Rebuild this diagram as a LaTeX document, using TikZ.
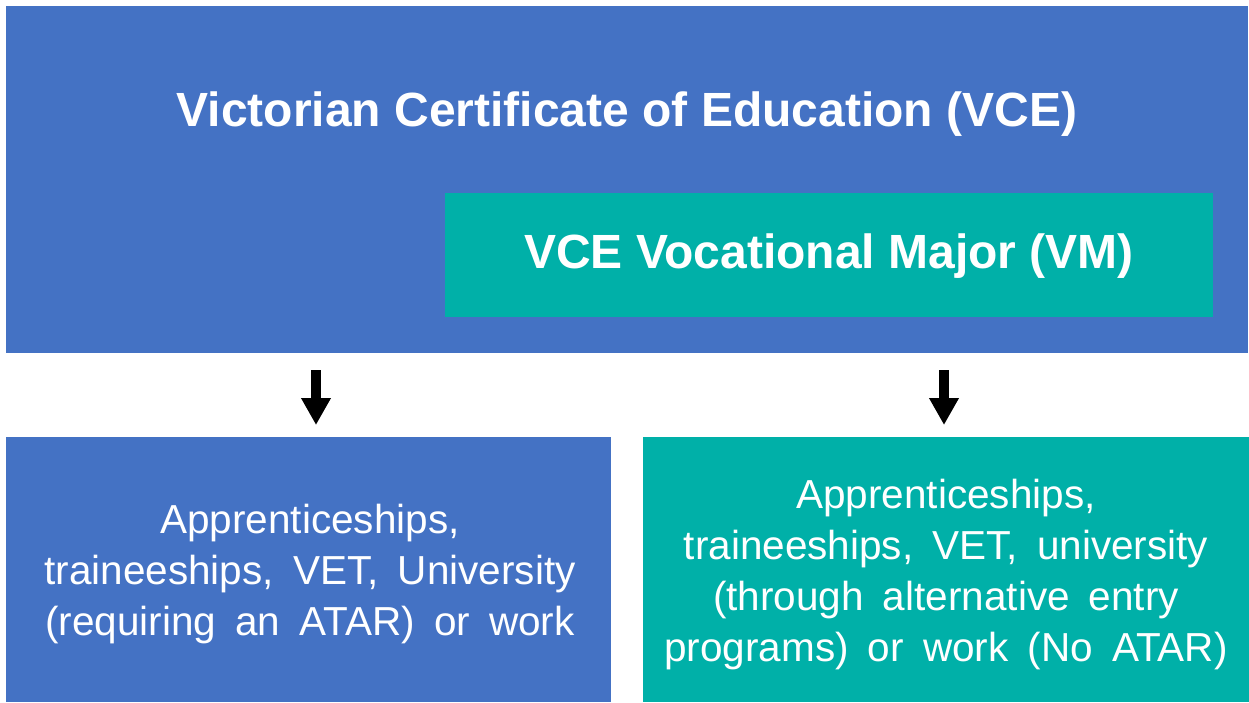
\documentclass[tikz,border=0pt]{standalone}
\usepackage{fontspec}
\setmainfont{Liberation Sans}
\newfontfamily\bodyfont[WordSpace=1.7]{Liberation Sans}
\usetikzlibrary{arrows.meta}
\definecolor{vceblue}{HTML}{4472C4}
\definecolor{vmteal}{HTML}{00B0A8}
\begin{document}
\begin{tikzpicture}[x=1pt,y=-1pt,
  bluebox/.style={fill=vceblue,draw=none},
  tealbox/.style={fill=vmteal,draw=none},
  titletext/.style={text=white,font=\fontsize{48}{56}\selectfont\bfseries,inner sep=0pt},
  bodytext/.style={text=white,align=center,font=\fontsize{40.5}{51}\selectfont\bodyfont,inner sep=0pt},
  downarrow/.style={line width=10pt,-{Triangle[width=28pt,length=27pt]}}]
\useasboundingbox (0,0) rectangle (1249,702);
\fill[white] (0,0) rectangle (1249,702);
% top box
\path[bluebox] (6,6) rectangle (1248,353);
\path[tealbox] (445,193) rectangle (1213,317);
\node[titletext,anchor=base] (vce) at (627,126) {Victorian Certificate of Education (VCE)};
\node[titletext] (vm) at (829,256) {VCE Vocational Major (VM)};
% bottom boxes
\path[bluebox] (6,437) rectangle (611,702);
\path[tealbox] (643,437) rectangle (1249,702);
\node[bodytext] (left) at (310,574) {Apprenticeships,\\traineeships, VET, University\\(requiring an ATAR) or work};
\node[bodytext] (right) at (946,575) {Apprenticeships,\\traineeships, VET, university\\(through alternative entry\\programs) or work (No ATAR)};
% arrows
\coordinate (a1s) at (316,370);
\coordinate (a1e) at (316,425);
\coordinate (a2s) at (944,370);
\coordinate (a2e) at (944,425);
\draw[downarrow] (a1s) -- (a1e);
\draw[downarrow] (a2s) -- (a2e);
\end{tikzpicture}
\end{document}
